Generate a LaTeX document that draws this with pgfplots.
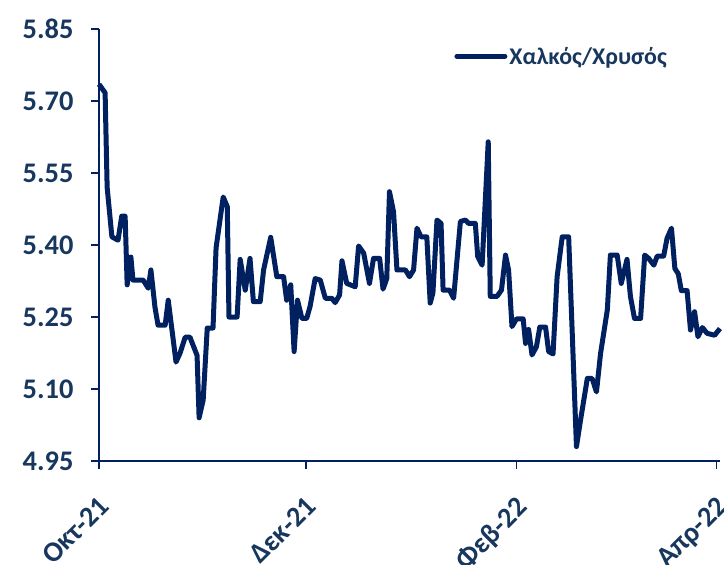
\documentclass[border=0pt]{standalone}
\usepackage{fontspec}
\setmainfont{Carlito}
\usepackage{pgfplots}
\pgfplotsset{compat=1.18}
\definecolor{navy}{RGB}{0,32,96}
\definecolor{labc}{RGB}{23,55,94}
\begin{document}
\begin{tikzpicture}
\path[use as bounding box] (-99bp,-104bp) rectangle (625bp,461bp);
\begin{axis}[
  at={(0,0)}, anchor=south west,
  scale only axis, width=621bp, height=432bp,
  xmin=0, xmax=183, ymin=4.95, ymax=5.85,
  clip=false,
  axis x line*=bottom, axis y line*=left,
  axis line style={navy, line width=1.3bp},
  xtick={0,61,123,182},
  xticklabels={Οκτ-21,Δεκ-21,Φεβ-22,Απρ-22},
  ytick={4.95,5.10,5.25,5.40,5.55,5.70,5.85},
  tick align=outside, major tick length=8bp,
  tick style={navy, line width=1.3bp},
  yticklabel style={font=\bfseries\fontsize{28.5}{32}\selectfont, text=labc, xshift=-14bp,
    /pgf/number format/.cd, fixed, fixed zerofill, precision=2, assume math mode=true},
  xticklabel style={font=\bfseries\fontsize{28.5}{32}\selectfont, text=labc,
    rotate=45, anchor=north east, inner sep=2bp, yshift=-15bp, xshift=-17bp},
  legend style={at={(0.572,0.937)}, anchor=west, draw=none, fill=none,
    font=\bfseries\fontsize{24}{28}\selectfont, text=labc, inner sep=0pt},
  legend image code/.code={\draw[#1, line cap=round] (0bp,0bp) -- (48bp,0bp);},
]
\addplot[navy, line width=5bp, line join=round] coordinates {
(0,5.735)(1.8,5.717)(2.4,5.52)(3.8,5.417)(5.6,5.41)(6.7,5.46)(7.7,5.46)
(8.3,5.317)(9.4,5.375)(10.0,5.327)(13.0,5.327)(14.5,5.31)(15.3,5.348)
(16.5,5.27)(17.4,5.233)(19.5,5.233)(20.4,5.285)(22.7,5.156)(23.9,5.175)
(25.4,5.208)(26.8,5.208)(28.9,5.17)(29.5,5.04)(30.7,5.077)(31.9,5.227)
(33.6,5.227)(34.5,5.394)(36.6,5.50)(37.8,5.48)(38.3,5.25)(40.7,5.25)
(41.6,5.37)(43.1,5.306)(44.5,5.372)(45.5,5.282)(47.5,5.282)(48.5,5.348)
(50.6,5.416)(52.4,5.334)(54.4,5.334)(55.3,5.285)(56.5,5.317)(57.5,5.178)
(58.5,5.285)(59.8,5.247)(61.2,5.247)(62.2,5.272)(63.7,5.33)(65.2,5.327)
(66.7,5.289)(68.6,5.289)(69.6,5.28)(70.9,5.296)(71.6,5.367)(73.0,5.32)
(75.5,5.313)(76.5,5.398)(78.0,5.383)(79.7,5.32)(80.9,5.372)(82.7,5.372)
(83.7,5.308)(84.8,5.33)(85.6,5.511)(86.8,5.469)(87.8,5.348)(90.3,5.348)
(91.5,5.334)(92.7,5.348)(93.7,5.435)(94.9,5.417)(96.6,5.417)(97.6,5.279)
(98.4,5.30)(99.6,5.452)(100.8,5.445)(101.4,5.306)(103.3,5.306)(104.5,5.289)
(106.5,5.449)(108.0,5.452)(108.9,5.445)(110.9,5.445)(111.6,5.376)(112.9,5.358)
(114.7,5.615)(115.3,5.293)(117.3,5.293)(118.6,5.306)(119.8,5.379)(120.7,5.348)
(121.7,5.23)(123.0,5.246)(125.0,5.246)(125.7,5.195)(126.6,5.224)(127.6,5.171)
(128.9,5.188)(129.9,5.229)(131.6,5.229)(132.5,5.178)(133.8,5.173)(135.0,5.334)
(136.5,5.417)(138.4,5.417)(140.7,4.98)(141.9,5.035)(143.9,5.122)(145.3,5.122)
(146.6,5.094)(147.8,5.174)(149.8,5.265)(150.7,5.379)(152.7,5.379)(153.9,5.32)
(155.6,5.37)(156.6,5.293)(157.8,5.247)(159.6,5.247)(160.8,5.379)(162.0,5.372)
(163.5,5.358)(164.5,5.377)(166.4,5.377)(167.4,5.414)(168.7,5.435)(169.7,5.351)
(170.7,5.34)(171.6,5.305)(173.3,5.305)(174.3,5.223)(175.5,5.261)(176.5,5.209)
(177.8,5.228)(179.2,5.216)(181.4,5.212)(183.0,5.226)
};
\addlegendentry{Χαλκός/Χρυσός}
\end{axis}
\end{tikzpicture}
\end{document}
